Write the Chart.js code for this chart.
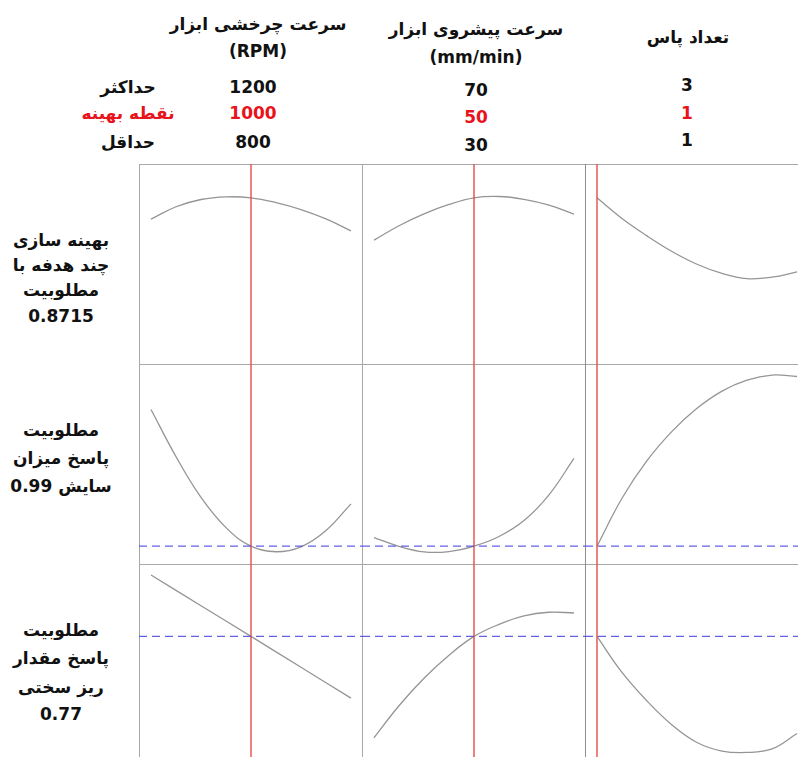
<!DOCTYPE html>
<html lang="fa">
<head>
<meta charset="utf-8">
<title>بهینه سازی پاسخ</title>
<script src="https://cdn.jsdelivr.net/npm/chart.js"></script>
<style>
  html, body { margin: 0; padding: 0; background: #fff; }
  body { width: 798px; height: 757px; overflow: hidden; position: relative;
         font-family: "DejaVu Sans", sans-serif; font-weight: bold; color: #111; }
  .t { position: absolute; transform: translate(-50%, -50%); white-space: nowrap; font-size: 17px; line-height: 1; }
  .red { color: #e8141c; }
  .rule { position: absolute; background: #a8a8a8; }
  canvas.panel { position: absolute; }
</style>
</head>
<body>
<script>
// Factor settings
const factorTitles = [["سرعت چرخشی ابزار", "(RPM)"], ["سرعت پیشروی ابزار", "(mm/min)"], ["تعداد پاس"]];
const levelNames = ["حداکثر", "نقطه بهینه", "حداقل"];
const highLabels = ["1200", "70", "3"];
const optLabels = ["1000", "50", "1"];
const lowLabels = ["800", "30", "1"];
const factorLow = [800, 30, 1];
const factorHigh = [1200, 70, 3];
const factorOpt = [1000, 50, 1];

// Response row captions
const responseLabels = [
  ["بهینه سازی", "چند هدفه با", "مطلوبیت", "0.8715"],
  ["مطلوبیت", "پاسخ میزان", "سایش 0.99"],
  ["مطلوبیت", "پاسخ مقدار", "ریز سختی", "0.77"]
];

// Factor grids for the profile curves
const rpmGrid = [800, 850, 900, 950, 1000, 1050, 1100, 1150, 1200];
const feedGrid = [30, 35, 40, 45, 50, 55, 60, 65, 70];
const passGrid = [1, 1.25, 1.5, 1.75, 2, 2.25, 2.5, 2.75, 3];

// Composite desirability profile (row 1)
const compositeVsRpm = [0.751, 0.821, 0.862, 0.877, 0.8715, 0.8445, 0.8055, 0.7525, 0.685];
const compositeVsFeed = [0.633, 0.714, 0.781, 0.834, 0.8715, 0.879, 0.863, 0.830, 0.780];
const compositeVsPass = [0.8715, 0.755, 0.657, 0.569, 0.497, 0.445, 0.416, 0.424, 0.454];

// Wear response profile, scaled to its plotted range (row 2)
const wearVsRpm = [0.806, 0.540, 0.310, 0.140, 0.0355, 0.004, 0.032, 0.124, 0.274];
const wearVsFeed = [0.084, 0.034, 0.003, 0.005, 0.0355, 0.090, 0.180, 0.325, 0.530];
const wearVsPass = [0.0355, 0.3055, 0.5175, 0.6825, 0.8125, 0.9095, 0.9715, 0.9995, 0.9915];
const wearAtOpt = 0.0355;

// Micro-hardness response profile, scaled to its plotted range (row 3)
const hardRpmGrid = [800, 900, 1000, 1100, 1200];
const hardVsRpm = [1.0, 0.827, 0.654, 0.48, 0.306];
const hardVsFeed = [0.083, 0.263, 0.418, 0.548, 0.654, 0.722, 0.770, 0.790, 0.786];
const hardVsPass = [0.654, 0.451, 0.290, 0.155, 0.056, 0.008, 0.0, 0.020, 0.107];
const hardAtOpt = 0.654;

// ---- layout ----
const GRID_LEFT = 139, GRID_TOP = 164, CELL_W = 223, CELL_H = 200;
const Y_MIN = -0.065, Y_MAX = 1.062;

function addText(str, x, y, cls, dir) {
  const d = document.createElement('div');
  d.className = 't' + (cls ? ' ' + cls : '');
  d.textContent = str;
  d.dir = dir || 'rtl';
  d.style.left = x + 'px';
  d.style.top = y + 'px';
  document.body.appendChild(d);
}
function addRule(x, y, w, h, color) {
  const d = document.createElement('div');
  d.className = 'rule';
  d.style.left = x + 'px'; d.style.top = y + 'px';
  d.style.width = w + 'px'; d.style.height = h + 'px';
  if (color) d.style.background = color;
  document.body.appendChild(d);
}

// Header: factor titles and their levels
const titlePos = [[[258, 24], [258, 51]], [[476, 29], [476, 57]], [[688, 37]]];
factorTitles.forEach((lines, c) => lines.forEach((s, i) =>
  addText(s, titlePos[c][i][0], titlePos[c][i][1], '', /^[\x00-\x7f]+$/.test(s) ? 'ltr' : 'rtl')));
const levelY = [[87, 113, 142], [90, 117, 145], [85, 113, 140]];
const levelX = [253, 476, 687];
addText(levelNames[0], 128, 87);
addText(levelNames[1], 128, 113, 'red');
addText(levelNames[2], 128, 142);
for (let c = 0; c < 3; c++) {
  addText(highLabels[c], levelX[c], levelY[c][0], '', 'ltr');
  addText(optLabels[c], levelX[c], levelY[c][1], 'red', 'ltr');
  addText(lowLabels[c], levelX[c], levelY[c][2], '', 'ltr');
}

// Row captions
const captionY = [[240, 265, 290, 316], [430, 458, 486], [630, 658, 687, 714]];
responseLabels.forEach((lines, r) => lines.forEach((s, i) => addText(s, 61, captionY[r][i])));

// Panel frame
for (let r = 0; r < 3; r++) addRule(GRID_LEFT, GRID_TOP + r * CELL_H, 798 - GRID_LEFT, 1);
addRule(GRID_LEFT, GRID_TOP, 1, 757 - GRID_TOP);
addRule(GRID_LEFT + CELL_W, GRID_TOP, 1, 757 - GRID_TOP);
addRule(GRID_LEFT + 2 * CELL_W, GRID_TOP, 1, 757 - GRID_TOP, '#8e8e8e');

// ---- profile panels ----
const rows = [
  { curves: [[rpmGrid, compositeVsRpm], [feedGrid, compositeVsFeed], [passGrid, compositeVsPass]], ref: null },
  { curves: [[rpmGrid, wearVsRpm], [feedGrid, wearVsFeed], [passGrid, wearVsPass]], ref: wearAtOpt },
  { curves: [[hardRpmGrid, hardVsRpm], [feedGrid, hardVsFeed], [passGrid, hardVsPass]], ref: hardAtOpt }
];

rows.forEach((row, r) => {
  row.curves.forEach(([xs, ys], c) => {
    const span = factorHigh[c] - factorLow[c];
    const xMin = factorLow[c] - span * 0.06;
    const xMax = factorHigh[c] + span * 0.055;
    const cv = document.createElement('canvas');
    cv.className = 'panel';
    cv.width = CELL_W; cv.height = CELL_H;
    cv.style.left = (GRID_LEFT + c * CELL_W) + 'px';
    cv.style.top = (GRID_TOP + r * CELL_H) + 'px';
    cv.style.width = CELL_W + 'px'; cv.style.height = CELL_H + 'px';
    document.body.appendChild(cv);

    const datasets = [
      { data: xs.map((x, i) => ({ x, y: ys[i] })), borderColor: '#959595', borderWidth: 1.3,
        tension: 0.4, order: 2 },
      { data: [{ x: factorOpt[c], y: Y_MIN }, { x: factorOpt[c], y: Y_MAX }],
        borderColor: 'rgba(226,70,70,0.85)', borderWidth: 1.6, order: 1 }
    ];
    if (row.ref !== null) {
      datasets.push({ data: [{ x: xMin, y: row.ref }, { x: xMax, y: row.ref }],
        borderColor: 'rgba(80,80,225,0.9)', borderWidth: 1.3, borderDash: [8, 5], order: 0 });
    }
    new Chart(cv, {
      type: 'line',
      data: { datasets },
      options: {
        responsive: false, animation: false, devicePixelRatio: 1, events: [],
        layout: { padding: 0 },
        elements: { point: { radius: 0 } },
        plugins: { legend: { display: false }, tooltip: { enabled: false } },
        scales: {
          x: { type: 'linear', display: false, min: xMin, max: xMax },
          y: { type: 'linear', display: false, min: Y_MIN, max: Y_MAX }
        }
      }
    });
  });
});
</script>
</body>
</html>
